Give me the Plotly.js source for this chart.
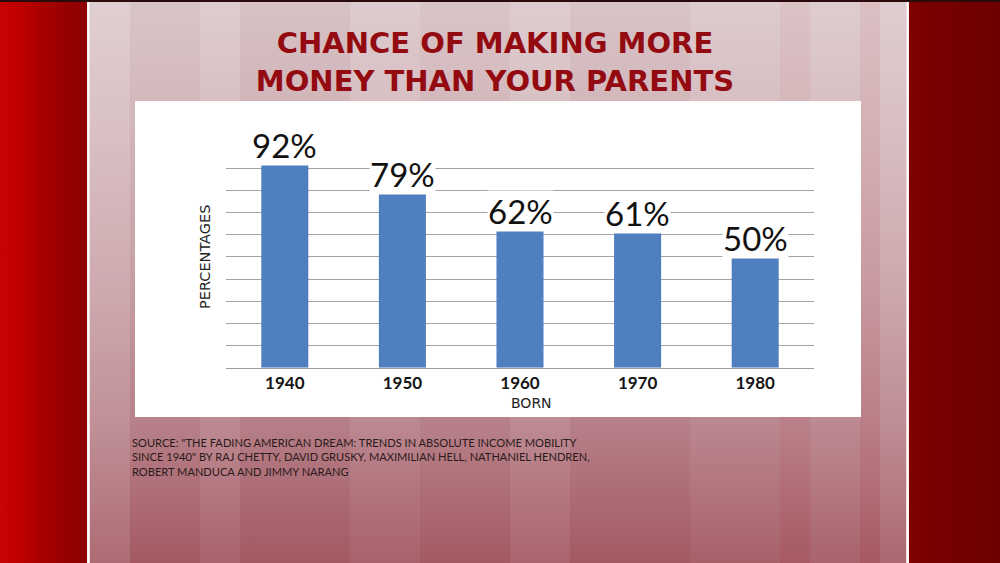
<!DOCTYPE html>
<html>
<head>
<meta charset="utf-8">
<script src="https://cdn.plot.ly/plotly-3.0.1.min.js"></script>
<style>
  html, body { margin:0; padding:0; width:1000px; height:563px; overflow:hidden; }
  #stage { position:relative; width:1000px; height:563px; background:#7a0000; }
  .bg { position:absolute; top:0; }
  #left { left:0; width:87px; height:563px;
    background: linear-gradient(to right, #c80305 0px, #c20000 14px, #b80000 28px, #a80000 44px, #9a0000 62px, #8c0000 86px); }
  #leftline { left:87px; width:3px; height:563px; background: linear-gradient(to right, #f4e6e6, #ffffff, #e8cdd0); }
  #center { left:90px; width:816px; height:563px;
    background: linear-gradient(to bottom, #dccacd 0%, #d4b8bc 25%, #c9a2a7 50%, #b9848c 75%, #a55b64 100%); }
  #stripes { left:90px; width:816px; height:563px;
    background: linear-gradient(to right,
      rgba(255,255,255,0.10) 0px, rgba(255,255,255,0.10) 40px,
      rgba(120,40,50,0.03) 40px, rgba(120,40,50,0.03) 110px,
      rgba(255,255,255,0.05) 110px, rgba(255,255,255,0.05) 150px,
      rgba(120,40,50,0.05) 150px, rgba(120,40,50,0.05) 260px,
      rgba(255,255,255,0.04) 260px, rgba(255,255,255,0.04) 330px,
      rgba(120,40,50,0.03) 330px, rgba(120,40,50,0.03) 420px,
      rgba(255,255,255,0.06) 420px, rgba(255,255,255,0.06) 480px,
      rgba(120,40,50,0.04) 480px, rgba(120,40,50,0.04) 600px,
      rgba(255,255,255,0.03) 600px, rgba(255,255,255,0.03) 690px,
      rgba(200,60,70,0.05) 690px, rgba(200,60,70,0.05) 720px,
      rgba(255,255,255,0.05) 720px, rgba(255,255,255,0.05) 770px,
      rgba(200,60,70,0.07) 770px, rgba(200,60,70,0.07) 790px,
      rgba(255,255,255,0.08) 790px, rgba(255,255,255,0.08) 816px); }
  #topband { left:0; width:1000px; height:2px; background:#2a0a0a; }
  #rightline { left:906px; width:3px; height:563px; background: linear-gradient(to right, #e8cdd0, #ffffff, #f4e6e6); }
  #right { left:909px; width:91px; height:563px;
    background: linear-gradient(to right, #7e0000 0px, #760000 40px, #6e0000 91px); }
  #chart { position:absolute; left:0; top:0; width:1000px; height:563px; }
</style>
</head>
<body>
<div id="stage">
  <div class="bg" id="left"></div>
  <div class="bg" id="leftline"></div>
  <div class="bg" id="center"></div>
  <div class="bg" id="stripes"></div>
  <div class="bg" id="rightline"></div>
  <div class="bg" id="right"></div>
  <div class="bg" id="topband"></div>
  <div id="chart"></div>
</div>
<script>
// ---- data ----
const birthYears = ['1940', '1950', '1960', '1970', '1980'];
const chancePct = [92, 79, 62, 61, 50];
const titleLines = ['CHANCE OF MAKING MORE', 'MONEY THAN YOUR PARENTS'];
const xAxisLabel = 'BORN';
const yAxisLabel = 'PERCENTAGES';
const sourceLines = [
  'SOURCE: "THE FADING AMERICAN DREAM: TRENDS IN ABSOLUTE INCOME MOBILITY',
  'SINCE 1940" BY RAJ CHETTY, DAVID GRUSKY, MAXIMILIAN HELL, NATHANIEL HENDREN,',
  'ROBERT MANDUCA AND JIMMY NARANG'
];

const W = 1000, H = 563;
const px = x => x / W;
const py = y => 1 - y / H;

const trace = {
  type: 'bar',
  x: birthYears,
  y: chancePct,
  width: 0.4,
  marker: { color: '#4f7fbe' },
  hoverinfo: 'none'
};

// category index i is used as the annotation position so that number-like
// category names are not read as positions
const barLabels = birthYears.map((yr, i) => ({
  x: i, y: chancePct[i], xref: 'x', yref: 'y',
  text: chancePct[i] + '%',
  showarrow: false, yanchor: 'bottom', xanchor: 'center',
  bgcolor: '#ffffff', borderpad: 0, yshift: -2,
  font: { family: 'Lato, "Open Sans", sans-serif', size: 33, color: '#111111' }
}));

const layout = {
  width: W, height: H,
  margin: { l: 0, r: 0, t: 0, b: 0 },
  paper_bgcolor: 'rgba(0,0,0,0)',
  plot_bgcolor: 'rgba(0,0,0,0)',
  showlegend: false,
  title: {
    text: titleLines.join('<br>'),
    x: px(495), xanchor: 'center', xref: 'container',
    y: py(53), yanchor: 'middle', yref: 'container',
    font: { family: '"DejaVu Sans", sans-serif', size: 29, color: '#930a10', weight: 'bold' }
  },
  xaxis: {
    type: 'category', domain: [px(226), px(814)], range: [-0.5, 4.5],
    showline: true, linecolor: '#9c9c9c', linewidth: 1,
    showgrid: false, zeroline: false, ticks: '',
    tickfont: { family: 'Lato, "Open Sans", sans-serif', size: 17, color: '#151515', weight: 'bold' },
    fixedrange: true
  },
  yaxis: {
    domain: [py(367.7), py(146)], range: [0, 100], dtick: 10,
    showticklabels: false, showgrid: true, gridcolor: '#a4a4a4', gridwidth: 1,
    zeroline: false, fixedrange: true
  },
  shapes: [{
    type: 'rect', xref: 'paper', yref: 'paper', layer: 'below',
    x0: px(135), x1: px(861), y0: py(417), y1: py(101),
    fillcolor: '#ffffff', line: { width: 0 }
  }],
  annotations: barLabels.concat([
    {
      x: px(205), y: py(257), xref: 'paper', yref: 'paper',
      text: yAxisLabel, textangle: -90, showarrow: false,
      xanchor: 'center', yanchor: 'middle',
      font: { family: '"DejaVu Sans", sans-serif', size: 14.5, color: '#222222' }
    },
    {
      x: px(531), y: py(402.5), xref: 'paper', yref: 'paper',
      text: xAxisLabel, showarrow: false,
      xanchor: 'center', yanchor: 'middle',
      font: { family: '"DejaVu Sans", sans-serif', size: 14, color: '#222222' }
    },
    {
      x: px(130), y: py(434), xref: 'paper', yref: 'paper',
      text: sourceLines.join('<br>'), showarrow: false, align: 'left',
      xanchor: 'left', yanchor: 'top',
      font: { family: 'Lato, "Open Sans", sans-serif', size: 11.1, color: '#2b1a1c' }
    }
  ])
};

Plotly.newPlot('chart', [trace], layout, { displayModeBar: false, staticPlot: true });
</script>
</body>
</html>
